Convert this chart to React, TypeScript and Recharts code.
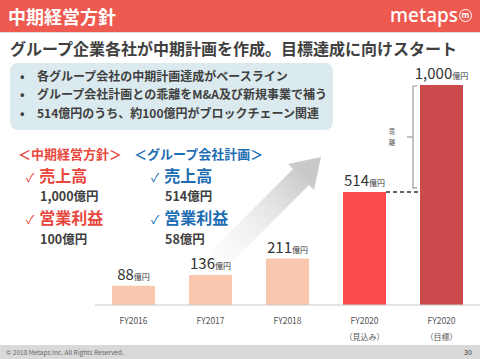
import { Bar, BarChart, Cell, LabelList, XAxis, YAxis } from "recharts";

const categories = ["FY2016", "FY2017", "FY2018", "FY2020a", "FY2020b"];
const tickLabels = ["FY2016", "FY2017", "FY2018", "FY2020", "FY2020"];
const tickSubLabels = ["", "", "", "（見込み）", "（目標）"];
const sales = [88, 136, 211, 514, 1000];
const barColors = ["#f8c7ae", "#f8c7ae", "#f8c7ae", "#fa4a4b", "#cd4a4c"];

const bullets = [
  "各グループ会社の中期計画達成がベースライン",
  "グループ会社計画との乖離をM&A及び新規事業で補う",
  "514億円のうち、約100億円がブロックチェーン関連",
];

const FONT = '"Noto Sans CJK JP", "Noto Sans", sans-serif';
const RED = "#e9473d";
const BLUE = "#1d6db3";
const DARK = "#404040";

const data = categories.map((c, i) => ({ key: c, value: sales[i] }));

function AxisTick(props: any) {
  const { x, y, payload } = props;
  const i = payload.index;
  return (
    <g>
      <text x={x} y={y + 19} textAnchor="middle" fontSize={8.5} fill="#555" fontFamily={FONT}>
        {tickLabels[i]}
      </text>
      {tickSubLabels[i] && (
        <text x={x} y={y + 35} textAnchor="middle" fontSize={8} fill="#555" fontFamily={FONT}>
          {tickSubLabels[i]}
        </text>
      )}
    </g>
  );
}

function ValueLabel(props: any) {
  const { x, y, width, height, value, index } = props;
  const cx = x + width / 2;
  let extra = null;
  if (index === 3) {
    // dashed guide to the target bar
    extra = (
      <line x1={x + width} x2={x + width + 34} y1={y} y2={y} stroke="#333" strokeWidth={1.5} strokeDasharray="4 3" />
    );
  }
  if (index === 4) {
    const yLow = y + height * (1 - sales[3] / sales[4]) - 4;
    const top = y + 1;
    const mid = (top + yLow) / 2;
    const bx = x - 7;
    extra = (
      <g stroke="#999" strokeWidth={1.2} fill="none">
        <path d={`M${x - 3},${top} L${bx},${top} L${bx},${yLow} L${x - 3},${yLow}`} />
        <line x1={bx} x2={bx - 6} y1={mid} y2={mid} />
        <text x={bx - 21} y={mid - 3} fontSize={6.5} fill="#555" stroke="none" textAnchor="middle" fontFamily={FONT}>
          乖
        </text>
        <text x={bx - 21} y={mid + 8} fontSize={6.5} fill="#555" stroke="none" textAnchor="middle" fontFamily={FONT}>
          離
        </text>
      </g>
    );
  }
  return (
    <g>
      {extra}
      <text x={cx} y={y - 6} textAnchor="middle" fill="#333" fontFamily={FONT}>
        <tspan fontSize={15}>{Number(value).toLocaleString("en-US")}</tspan>
        <tspan fontSize={8}>億円</tspan>
      </text>
    </g>
  );
}

export default function App() {
  return (
    <div
      style={{
        position: "absolute",
        left: 0,
        top: 0,
        width: 480,
        height: 359,
        background: "#fff",
        overflow: "hidden",
        fontFamily: FONT,
      }}
    >
      {/* header */}
      <div style={{ position: "absolute", left: 0, top: 0, width: 480, height: 32, background: "#ee5a50" }} />
      <div style={{ position: "absolute", left: 0, top: 32, width: 480, height: 1, background: "#ddd" }} />
      <div style={{ position: "absolute", left: 8, top: 3, fontSize: 18, fontWeight: 700, color: "#fff", lineHeight: "26px" }}>
        中期経営方針
      </div>
      <div
        style={{
          position: "absolute",
          left: 390,
          top: 2,
          fontSize: 19,
          fontWeight: 500,
          color: "#fff",
          fontFamily: '"Noto Sans", sans-serif',
          lineHeight: "26px",
        }}
      >
        metaps
      </div>
      <div
        style={{
          position: "absolute",
          left: 459,
          top: 9,
          width: 11,
          height: 11,
          border: "1.8px solid #fff",
          borderRadius: "50%",
          color: "#fff",
          fontSize: 8,
          fontWeight: 700,
          lineHeight: "10px",
          textAlign: "center",
          fontFamily: '"Noto Sans", sans-serif',
        }}
      >
        m
      </div>

      {/* subtitle */}
      <div style={{ position: "absolute", left: 10, top: 37, fontSize: 16, fontWeight: 700, color: DARK, lineHeight: "22px", whiteSpace: "nowrap" }}>
        グループ企業各社が中期計画を作成。目標達成に向けスタート
      </div>

      {/* bullet box */}
      <div style={{ position: "absolute", left: 10, top: 63, width: 323, height: 67, background: "#dbeaee", borderRadius: 8 }} />
      {bullets.map((b, i) => (
        <div
          key={b}
          style={{
            position: "absolute",
            left: 20,
            top: 68 + i * 18.3,
            fontSize: 12,
            fontWeight: 700,
            color: DARK,
            lineHeight: "16px",
            whiteSpace: "nowrap",
          }}
        >
          <span style={{ display: "inline-block", width: 17 }}>•</span>
          {b}
        </div>
      ))}

      {/* arrow */}
      <svg width={480} height={359} style={{ position: "absolute", left: 0, top: 0 }}>
        <defs>
          <linearGradient id="arrowGrad" x1="190" y1="288" x2="305" y2="172" gradientUnits="userSpaceOnUse">
            <stop offset="0" stopColor="#ffffff" stopOpacity={0} />
            <stop offset="1" stopColor="#c9c9c9" />
          </linearGradient>
        </defs>
        <polygon
          points="182,280 293,169 288,164 321,157 314,190 309,185 198,296"
          fill="url(#arrowGrad)"
        />
      </svg>

      {/* chart */}
      <div style={{ position: "absolute", left: 0, top: 0 }}>
        <BarChart width={480} height={359} data={data} margin={{ top: 85, right: 0, bottom: 0, left: 95 }}>
          <YAxis hide domain={[0, 1000]} />
          <XAxis
            dataKey="key"
            axisLine={{ stroke: "#c8c8c8" }}
            tickLine={false}
            tickSize={0}
            tickMargin={0}
            tick={<AxisTick />}
            interval={0}
            height={54}
          />
          <Bar dataKey="value" barSize={43} isAnimationActive={false}>
            {data.map((d, i) => (
              <Cell key={d.key} fill={barColors[i]} />
            ))}
            <LabelList dataKey="value" content={<ValueLabel />} />
          </Bar>
        </BarChart>
      </div>

      {/* left text block */}
      <div style={{ position: "absolute", left: 18, top: 146, fontSize: 13, fontWeight: 700, color: RED, lineHeight: "16px", whiteSpace: "nowrap" }}>
        ＜中期経営方針＞
      </div>
      <div style={{ position: "absolute", left: 26, top: 167, fontSize: 16, fontWeight: 700, color: RED, lineHeight: "17px", whiteSpace: "nowrap" }}>
        <span style={{ fontSize: 12, fontWeight: 400, marginRight: 5 }}>✓</span>売上高
      </div>
      <div style={{ position: "absolute", left: 40, top: 189, fontSize: 12.5, fontWeight: 700, color: DARK, lineHeight: "14px" }}>
        1,000億円
      </div>
      <div style={{ position: "absolute", left: 26, top: 209, fontSize: 16, fontWeight: 700, color: RED, lineHeight: "17px", whiteSpace: "nowrap" }}>
        <span style={{ fontSize: 12, fontWeight: 400, marginRight: 5 }}>✓</span>営業利益
      </div>
      <div style={{ position: "absolute", left: 40, top: 232, fontSize: 12.5, fontWeight: 700, color: DARK, lineHeight: "14px" }}>
        100億円
      </div>

      {/* right text block */}
      <div style={{ position: "absolute", left: 134, top: 146, fontSize: 13, fontWeight: 700, color: BLUE, lineHeight: "16px", whiteSpace: "nowrap" }}>
        ＜グループ会社計画＞
      </div>
      <div style={{ position: "absolute", left: 151, top: 167, fontSize: 16, fontWeight: 700, color: BLUE, lineHeight: "17px", whiteSpace: "nowrap" }}>
        <span style={{ fontSize: 12, fontWeight: 400, marginRight: 5 }}>✓</span>売上高
      </div>
      <div style={{ position: "absolute", left: 165, top: 189, fontSize: 12.5, fontWeight: 700, color: DARK, lineHeight: "14px" }}>
        514億円
      </div>
      <div style={{ position: "absolute", left: 151, top: 209, fontSize: 16, fontWeight: 700, color: BLUE, lineHeight: "17px", whiteSpace: "nowrap" }}>
        <span style={{ fontSize: 12, fontWeight: 400, marginRight: 5 }}>✓</span>営業利益
      </div>
      <div style={{ position: "absolute", left: 165, top: 232, fontSize: 12.5, fontWeight: 700, color: DARK, lineHeight: "14px" }}>
        58億円
      </div>

      {/* footer */}
      <div style={{ position: "absolute", left: 0, top: 345, width: 480, height: 14, background: "#d9d9d9" }} />
      <div style={{ position: "absolute", left: 6, top: 345, fontSize: 6.5, color: "#666", lineHeight: "14px", whiteSpace: "nowrap" }}>
        © 2018 Metaps Inc. All Rights Reserved.
      </div>
      <div style={{ position: "absolute", left: 464, top: 345, fontSize: 7, color: "#333", lineHeight: "14px" }}>
        30
      </div>
    </div>
  );
}
